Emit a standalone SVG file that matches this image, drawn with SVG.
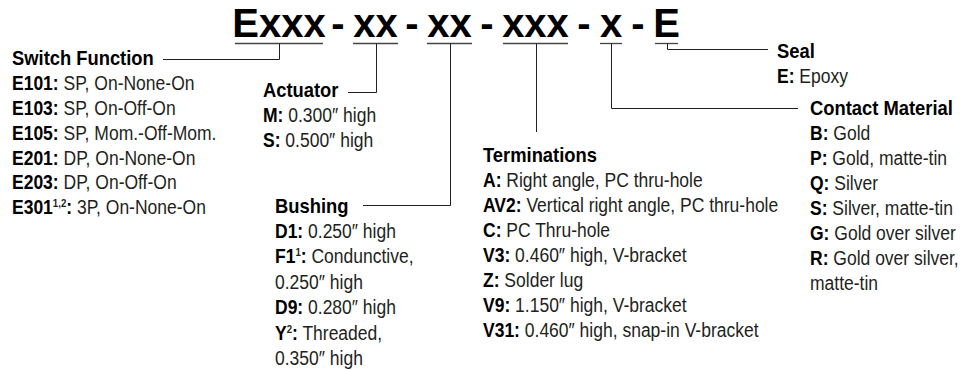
<svg xmlns="http://www.w3.org/2000/svg" width="961" height="370" viewBox="0 0 961 370">
<style>
.ttl{font-family:"Liberation Sans",Arial,sans-serif;font-weight:bold;font-size:40px;fill:#000;text-anchor:middle}
.h{font-family:"Liberation Sans",Arial,sans-serif;font-weight:bold;font-size:20px;fill:#000}
.t{font-family:"Liberation Sans",Arial,sans-serif;font-size:20px;fill:#231f20}
.b{font-weight:bold;fill:#000}
.sup{font-size:11px;font-weight:bold}
.ln{stroke:#231f20;stroke-width:1;fill:none}
.ul{stroke:#444;stroke-width:1.3;fill:none}
</style>
<rect width="961" height="370" fill="#fff"/>
<g id="title">
<text class="ttl" x="279" y="37">Exxx</text>
<text class="ttl" x="338" y="37">-</text>
<text class="ttl" x="375.5" y="37">xx</text>
<text class="ttl" x="412" y="37">-</text>
<text class="ttl" x="449.5" y="37">xx</text>
<text class="ttl" x="487" y="37">-</text>
<text class="ttl" x="535.5" y="37">xxx</text>
<text class="ttl" x="584" y="37">-</text>
<text class="ttl" x="611" y="37">x</text>
<text class="ttl" x="638" y="37">-</text>
<text class="ttl" x="666.5" y="37">E</text>
</g>
<g id="connectors">
<line class="ul" x1="235" y1="43.5" x2="323" y2="43.5"/>
<line class="ul" x1="353" y1="43.5" x2="398" y2="43.5"/>
<line class="ul" x1="427" y1="43.5" x2="472" y2="43.5"/>
<line class="ul" x1="503" y1="43.5" x2="568" y2="43.5"/>
<line class="ul" x1="600" y1="43.5" x2="622" y2="43.5"/>
<line class="ul" x1="655" y1="43.5" x2="678" y2="43.5"/>
<path class="ln" d="M279.5,43.5 V59.5 H163"/>
<path class="ln" d="M376.5,43.5 V92.5 H348"/>
<path class="ln" d="M450.5,43.5 V205.5 H363"/>
<path class="ln" d="M536.5,43.5 V132"/>
<path class="ln" d="M611.5,43.5 V108.5 H798"/>
<path class="ln" d="M667.5,43.5 V49.5 H768"/>
</g>
<g id="switch-function" transform="translate(12,0) scale(0.875,1)">
<text class="h" x="0" y="65" transform="scale(1.05,1)">Switch Function</text>
<text class="t" x="0" y="90.5"><tspan class="b">E101:</tspan> SP, On-None-On</text>
<text class="t" x="0" y="115.2"><tspan class="b">E103:</tspan> SP, On-Off-On</text>
<text class="t" x="0" y="139.9"><tspan class="b">E105:</tspan> SP, Mom.-Off-Mom.</text>
<text class="t" x="0" y="164.6"><tspan class="b">E201:</tspan> DP, On-None-On</text>
<text class="t" x="0" y="189.3"><tspan class="b">E203:</tspan> DP, On-Off-On</text>
<text class="t" x="0" y="214"><tspan class="b">E301</tspan><tspan class="sup" dy="-7">1,2</tspan><tspan class="b" dy="7">:</tspan> 3P, On-None-On</text>
</g>
<g id="actuator" transform="translate(263,0) scale(0.875,1)">
<text class="h" x="0" y="97" transform="scale(1.05,1)">Actuator</text>
<text class="t" x="0" y="122"><tspan class="b">M:</tspan> 0.300″ high</text>
<text class="t" x="0" y="147"><tspan class="b">S:</tspan> 0.500″ high</text>
</g>
<g id="bushing" transform="translate(275,0) scale(0.875,1)">
<text class="h" x="0" y="213" transform="scale(1.05,1)">Bushing</text>
<text class="t" x="0" y="238"><tspan class="b">D1:</tspan> 0.250″ high</text>
<text class="t" x="0" y="263"><tspan class="b">F1</tspan><tspan class="sup" dy="-7">1</tspan><tspan class="b" dy="7">:</tspan> Condunctive,</text>
<text class="t" x="0" y="289">0.250″ high</text>
<text class="t" x="0" y="314"><tspan class="b">D9:</tspan> 0.280″ high</text>
<text class="t" x="0" y="340"><tspan class="b">Y</tspan><tspan class="sup" dy="-7">2</tspan><tspan class="b" dy="7">:</tspan> Threaded,</text>
<text class="t" x="0" y="365">0.350″ high</text>
</g>
<g id="terminations" transform="translate(483,0) scale(0.875,1)">
<text class="h" x="0" y="162" transform="scale(1.05,1)">Terminations</text>
<text class="t" x="0" y="187"><tspan class="b">A:</tspan> Right angle, PC thru-hole</text>
<text class="t" x="0" y="212"><tspan class="b">AV2:</tspan> Vertical right angle, PC thru-hole</text>
<text class="t" x="0" y="237"><tspan class="b">C:</tspan> PC Thru-hole</text>
<text class="t" x="0" y="262"><tspan class="b">V3:</tspan> 0.460″ high, V-bracket</text>
<text class="t" x="0" y="287"><tspan class="b">Z:</tspan> Solder lug</text>
<text class="t" x="0" y="312"><tspan class="b">V9:</tspan> 1.150″ high, V-bracket</text>
<text class="t" x="0" y="337"><tspan class="b">V31:</tspan> 0.460″ high, snap-in V-bracket</text>
</g>
<g id="seal" transform="translate(777,0) scale(0.875,1)">
<text class="h" x="0" y="58" transform="scale(1.05,1)">Seal</text>
<text class="t" x="0" y="83"><tspan class="b">E:</tspan> Epoxy</text>
</g>
<g id="contact-material" transform="translate(810,0) scale(0.875,1)">
<text class="h" x="0" y="115" transform="scale(1.05,1)">Contact Material</text>
<text class="t" x="0" y="140"><tspan class="b">B:</tspan> Gold</text>
<text class="t" x="0" y="165"><tspan class="b">P:</tspan> Gold, matte-tin</text>
<text class="t" x="0" y="190"><tspan class="b">Q:</tspan> Silver</text>
<text class="t" x="0" y="215"><tspan class="b">S:</tspan> Silver, matte-tin</text>
<text class="t" x="0" y="240"><tspan class="b">G:</tspan> Gold over silver</text>
<text class="t" x="0" y="265"><tspan class="b">R:</tspan> Gold over silver,</text>
<text class="t" x="0" y="290">matte-tin</text>
</g>
</svg>
